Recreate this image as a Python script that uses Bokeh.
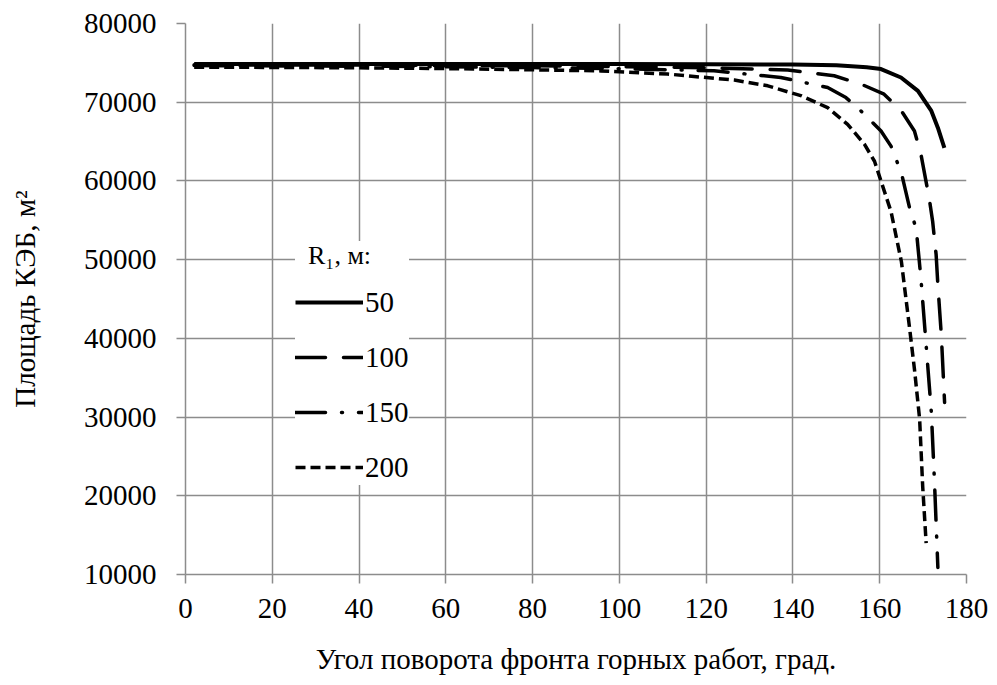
from bokeh.plotting import figure
from bokeh.models import FixedTicker, Legend, LegendItem, Range1d
from bokeh.embed import file_html
from bokeh.resources import INLINE

# ---- data ----
x_ticks = [0, 20, 40, 60, 80, 100, 120, 140, 160, 180]
y_ticks = [10000, 20000, 30000, 40000, 50000, 60000, 70000, 80000]

series_labels = ["50", "100", "150", "200"]

x_r50 = [2, 20, 40, 60, 80, 100, 120, 140, 150, 157, 160.3, 164.9, 168.8, 171.9, 173.4, 174.9]
y_r50 = [74850, 74850, 74850, 74850, 74850, 74850, 74830, 74780, 74700, 74430, 74215, 73140, 71440, 68890, 66760, 64200]

x_r100 = [2, 40, 80, 100, 120, 138.8, 149.5, 155.7, 161, 165, 168, 169.5, 171.4, 172.2, 173, 173.4, 174.2, 174.95]
y_r100 = [74750, 74720, 74620, 74520, 74380, 74100, 73360, 72300, 71020, 68890, 66340, 63390, 57800, 54840, 50630, 46800, 40400, 31860]

x_r150 = [2, 40, 80, 100, 121.8, 137.2, 148, 152.2, 154.9, 160.3, 162.6, 165, 167, 168.4, 169.5, 170.7, 171.9, 172.6, 173.4]
y_r150 = [74650, 74580, 74400, 74250, 74000, 73140, 71870, 70590, 69310, 66340, 64420, 61000, 56300, 53990, 47600, 39140, 30580, 22060, 10900]

x_r200 = [2, 20, 40, 60, 80, 95.7, 111.1, 126.5, 134.2, 142, 148, 152.6, 156.5, 158.8, 162.6, 165, 166.9, 168, 169.2, 169.9, 170.7]
y_r200 = [74450, 74420, 74370, 74270, 74120, 73980, 73580, 72810, 72080, 70800, 69310, 67190, 64640, 62500, 56120, 49730, 41220, 36110, 29730, 21220, 13980]

FONT = "Liberation Serif"
NUMFONT = "Times New Roman"
GRID = "#8c8c8c"

p = figure(width=989, height=677, output_backend="svg", toolbar_location=None,
           x_range=Range1d(0, 180), y_range=Range1d(10000, 80000),
           min_border_left=185, min_border_right=23, min_border_top=23, min_border_bottom=103)
p.outline_line_color = None
p.background_fill_color = "white"

# axes
p.xaxis.ticker = FixedTicker(ticks=x_ticks)
p.yaxis.ticker = FixedTicker(ticks=y_ticks)
for ax in (p.xaxis[0], p.yaxis[0]):
    ax.axis_line_color = GRID
    ax.axis_line_width = 1.5
    ax.major_tick_line_color = GRID
    ax.major_tick_line_width = 1.5
    ax.major_tick_out = 9
    ax.major_tick_in = 0
    ax.minor_tick_line_color = None
    ax.major_label_text_font = NUMFONT
    ax.major_label_text_font_size = "29px"
    ax.major_label_text_font_style = "normal"
    ax.major_label_text_color = "black"
    ax.axis_label_text_font = FONT
    ax.axis_label_text_font_size = "29px"
    ax.axis_label_text_font_style = "normal"
    ax.axis_label_text_color = "black"

p.xaxis.axis_label = "Угол поворота фронта горных работ, град."
p.yaxis.axis_label = "Площадь КЭБ, м²"
p.xaxis.major_label_standoff = 15
p.yaxis.major_label_standoff = 20
p.xaxis.axis_label_standoff = 22
p.yaxis.axis_label_standoff = 40

p.xgrid.grid_line_color = GRID
p.ygrid.grid_line_color = GRID
p.xgrid.grid_line_width = 1.5
p.ygrid.grid_line_width = 1.5

# curves
r1 = p.line(x_r50, y_r50, line_color="black", line_width=4)
r2 = p.line(x_r100, y_r100, line_color="black", line_width=3.5, line_dash="30 18", line_cap="round")
r3 = p.line(x_r150, y_r150, line_color="black", line_width=3.5, line_dash="30 16 1 16", line_cap="round")
r4 = p.line(x_r200, y_r200, line_color="black", line_width=3.5, line_dash="10 5")

legend = Legend(
    items=[LegendItem(label=series_labels[0], renderers=[r1]),
           LegendItem(label=series_labels[1], renderers=[r2]),
           LegendItem(label=series_labels[2], renderers=[r3]),
           LegendItem(label=series_labels[3], renderers=[r4])],
    location=(110, 89),
    title="\u2002R\u2081, м:",
    title_text_font=FONT, title_text_font_size="26px", title_text_font_style="normal",
    title_text_color="black", title_standoff=13,
    label_text_font=NUMFONT, label_text_font_size="29px", label_text_font_style="normal",
    label_text_color="black",
    glyph_width=68, glyph_height=36, label_height=36, label_standoff=2,
    spacing=19, padding=27, margin=0,
    border_line_color=None, background_fill_color="white", background_fill_alpha=1.0,
)
p.add_layout(legend)

open("out.html", "w").write(file_html(p, INLINE))
